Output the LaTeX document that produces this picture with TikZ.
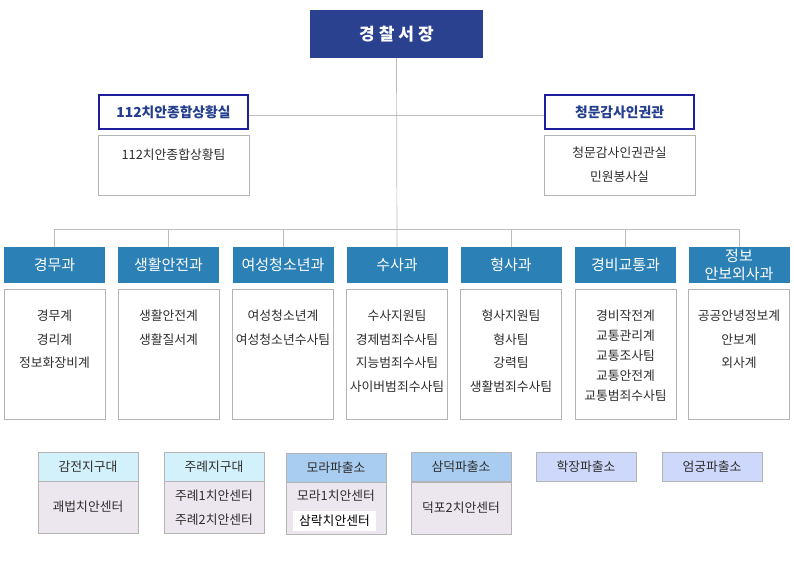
\documentclass[tikz,border=0pt]{standalone}
\usepackage{fontspec}
\setmainfont{Noto Sans CJK KR}
\definecolor{chiefblue}{HTML}{2A4190}
\definecolor{deptblue}{HTML}{2B80B5}
\definecolor{staffnavy}{HTML}{1E1E9C}
\definecolor{stafftext}{HTML}{253F8F}
\definecolor{linegray}{HTML}{BDBDBD}
\definecolor{boxgray}{HTML}{B4B4B4}
\definecolor{txtgray}{HTML}{2E2E2E}
\definecolor{cyanhead}{HTML}{D3F1FB}
\definecolor{bluehead}{HTML}{A9CDF0}
\definecolor{lavhead}{HTML}{CDD8FB}
\definecolor{pinkbody}{HTML}{ECE6EE}
\newcommand\itemlist[5]{%
  \foreach \t [count=\i] in {#5}
    \node[itemtxt] (#1-\i) at ({#2},{#3+(\i-1)*#4}) {\t};}
\tikzset{
  conn/.style={draw=linegray, line width=0.7pt},
  chiefbox/.style={fill=chiefblue, text=white, font=\fontsize{17}{20}\selectfont\bfseries,
    minimum width=173pt, minimum height=48pt, inner sep=0pt},
  staffhead/.style={draw=staffnavy, line width=1.8pt, fill=white, text=stafftext,
    font=\fontsize{13.8}{16}\selectfont\bfseries, minimum width=149pt, minimum height=34pt, inner sep=0pt},
  graybox/.style={draw=boxgray, line width=0.8pt, fill=white, inner sep=0pt},
  depthead/.style={fill=deptblue, text=white, font=\fontsize{15}{18}\selectfont,
    minimum width=101pt, minimum height=36pt, inner sep=0pt, align=center},
  itemtxt/.style={text=txtgray, font=\fontsize{12.8}{15}\selectfont, inner sep=0pt},
  sthead/.style={draw=boxgray, line width=0.8pt, text=txtgray, font=\fontsize{12.8}{15}\selectfont,
    minimum width=100pt, minimum height=29pt, inner sep=0pt},
  stbody/.style={draw=boxgray, line width=0.8pt, fill=pinkbody, minimum width=100pt,
    minimum height=52pt, inner sep=0pt}
}
\begin{document}
\begin{tikzpicture}[x=1pt,y=-1pt]
\useasboundingbox (0,0) rectangle (794,579);
\fill[white] (0,0) rectangle (794,579);

% chief
\node[chiefbox] (chief) at (396.5,34) {경\hspace{4pt}찰\hspace{4pt}서\hspace{4pt}장};

% staff offices
\node[staffhead] (staffL) at (173.5,112) {112치안종합상황실};
\node[staffhead] (staffR) at (619.5,112) {청문감사인권관};
\node[graybox, minimum width=151pt, minimum height=60pt] (staffLb) at (173.5,165) {};
\node[graybox, minimum width=151pt, minimum height=60pt] (staffRb) at (619.5,165) {};
\node[itemtxt] (sl1) at (173.5,155) {112치안종합상황팀};
\node[itemtxt] (sr1) at (619.5,153) {청문감사인권관실};
\node[itemtxt] (sr2) at (619.5,177) {민원봉사실};

% departments
\node[depthead] (d1) at (54.5,265) {경무과};
\node[depthead] (d2) at (168.5,265) {생활안전과};
\node[depthead] (d3) at (283,265) {여성청소년과};
\node[depthead] (d4) at (397,265) {수사과};
\node[depthead] (d5) at (511,265) {형사과};
\node[depthead] (d6) at (625.5,265) {경비교통과};
\node[depthead, font=\fontsize{15}{18}\selectfont] (d7) at (739,265) {정보\\안보외사과};

\foreach \n/\x in {1/54.5,2/168.5,3/283,4/397,5/511,6/625.5,7/739}
  \node[graybox, minimum width=101pt, minimum height=130pt] (b\n) at (\x,354) {};

\itemlist{i1}{54.5}{316}{23.5}{경무계,경리계,정보화장비계}
\itemlist{i2}{168.5}{316}{23.5}{생활안전계,생활질서계}
\itemlist{i3}{283}{316}{23.5}{여성청소년계,여성청소년수사팀}
\itemlist{i4}{397}{316}{23.5}{수사지원팀,경제범죄수사팀,지능범죄수사팀,사이버범죄수사팀}
\itemlist{i5}{511}{316}{23.5}{형사지원팀,형사팀,강력팀,생활범죄수사팀}
\itemlist{i6}{625.5}{316}{20}{경비작전계,교통관리계,교통조사팀,교통안전계,교통범죄수사팀}
\itemlist{i7}{739}{316}{23.5}{공공안녕정보계,안보계,외사계}

% connectors
\coordinate (busL) at (54.5,229);
\coordinate (busR) at (739,229);
\draw[conn] (chief.south) -- (d4.north);
\draw[conn] ([yshift=-3pt]staffL.east) -- ([yshift=-3pt]staffR.west);
\draw[conn] (busL) -- (busR);
\foreach \n in {1,2,3,5,6,7}
  \draw[conn] (d\n.north) -- (d\n.north |- busL);

% stations
\node[stbody] (s1b) at (88,507) {};
\node[sthead, fill=cyanhead] (s1) at (88,466.5) {감전지구대};
\node[itemtxt] (s1-1) at (88,507) {괘법치안센터};

\node[stbody] (s2b) at (214,507) {};
\node[sthead, fill=cyanhead] (s2) at (214,466.5) {주례지구대};
\node[itemtxt] (s2-1) at (214,496) {주례1치안센터};
\node[itemtxt] (s2-2) at (214,520) {주례2치안센터};

\node[stbody] (s3b) at (336,508) {};
\node[sthead, fill=bluehead] (s3) at (336,467.5) {모라파출소};
\node[itemtxt] (s3-1) at (336,496) {모라1치안센터};
\node[itemtxt, fill=white, text=black, minimum width=83pt, minimum height=20pt] (s3-2) at (334.5,521) {삼락치안센터};

\node[stbody] (s4b) at (461,508) {};
\node[sthead, fill=bluehead] (s4) at (461,467) {삼덕파출소};
\node[itemtxt] (s4-1) at (461,508) {덕포2치안센터};

\node[sthead, fill=lavhead] (s5) at (586,466.5) {학장파출소};
\node[sthead, fill=lavhead] (s6) at (712,466.5) {엄궁파출소};
\end{tikzpicture}
\end{document}
